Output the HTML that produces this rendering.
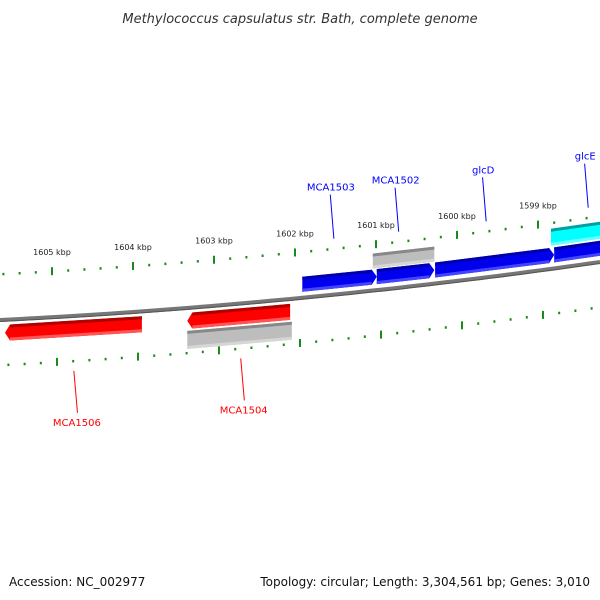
<!DOCTYPE html>
<html><head><meta charset="utf-8"><style>
html,body{margin:0;padding:0;background:#fff}
svg{display:block;font-family:"DejaVu Sans","Liberation Sans",sans-serif}
</style></head><body>
<svg id="c" width="600" height="600" viewBox="0 0 600 600">
<text x="300" y="23" text-anchor="middle" font-size="13" font-style="italic" fill="#333">Methylococcus capsulatus str. Bath, complete genome</text>
<text x="9" y="586" font-size="12" fill="#111">Accession: NC_002977</text>
<text x="590" y="586" text-anchor="end" font-size="12" fill="#111">Topology: circular; Length: 3,304,561 bp; Genes: 3,010</text>
<g id="g"></g>
</svg>
<script>
// data (kbp positions)
const tickKbp=[1605,1604,1603,1602,1601,1600,1599];
const geneNames=["MCA1506","MCA1504","MCA1504-gray","MCA1503","MCA1502","MCA1502-gray","glcD","glcE","glcE-cyan"];
const geneStart=[1605.58,1603.33,1603.33,1601.91,1600.99,1601.04,1600.27,1598.80,1598.84];
const geneEnd=[1603.89,1602.06,1602.04,1600.99,1600.28,1600.28,1598.80,1597.5,1597.5];
const geneStrand=["rev","rev","rev-gray","fwd","fwd","fwd-gray","fwd","fwd","fwd-cyan"];
const labelNames=["MCA1506","MCA1504","MCA1503","MCA1502","glcD","glcE"];
const labelKbp=[1604.73,1602.67,1601.52,1600.72,1599.64,1598.38];

const NS="http://www.w3.org/2000/svg";
const G=document.getElementById('g');
const X=k=>52+(1605-k)*81;
const Y=x=>320-0.05*x-7.78e-5*x*x;
function el(t,a,p){const e=document.createElementNS(NS,t);for(const k in a)e.setAttribute(k,a[k]);(p||G).appendChild(e);return e;}

// backbone
let d="";for(let x=0;x<=600;x+=10)d+=(x?"L":"M")+x+","+Y(x).toFixed(1);
const bb=el('path',{d:d,stroke:"#777",'stroke-width':4,fill:"none"});


let d2="";for(let x=0;x<=600;x+=10)d2+=(x?"L":"M")+x+","+(Y(x)+1.5).toFixed(1);
el('path',{d:d2,stroke:"#555",'stroke-width':1,fill:"none"});

// ticks
for(let k=1605.6;k>=1597.5;k-=0.2){
  const kr=Math.round(k*10)/10;
  const major=Math.abs(kr-Math.round(kr))<0.01;
  [[-46,0],[45,5]].forEach(([off,dx],i)=>{
    const x=X(kr)+dx; if(x<-2||x>602)return;
    const y=Y(x)+off;
    const t=el('rect',{x:x-1,y:major?y-4:y-1,width:2,height:major?8:2.5,fill:"#1a8a1a"});
    
    
  });
}
tickKbp.forEach(k=>{
  const x=X(k);
  const t=el('text',{x:x,y:Y(x)-62,'text-anchor':'middle','font-size':8,fill:"#222"});
  t.textContent=k+" kbp";
  
  
});

// genes
const style={"fwd":[-21,-6,"#0000ee","#0000aa","#4444ff"],"rev":[5,21,"#ff0000","#b00000","#ff5555"],
"rev-gray":[23,41,"#bdbdbd","#888","#d6d6d6"],"fwd-gray":[-37,-22,"#bdbdbd","#888","#d6d6d6"],
"fwd-cyan":[-40,-23,"#00ffff","#00a0a0","#66ffff"]};
geneNames.forEach((n,i)=>{
  const s=style[geneStrand[i]];
  let x1=X(geneStart[i]),x2=X(geneEnd[i]);
  const arrow=geneStrand[i]==="fwd"||geneStrand[i]==="rev";
  const a=arrow?5:0;
  const pt=(x,o)=>x.toFixed(1)+","+(Y(x)+o).toFixed(1);
  let pts;
  const m=(s[0]+s[1])/2;
  if(geneStrand[i]==="rev") pts=[pt(x1,m),pt(x1+a,s[0]),pt(x2,s[0]),pt(x2,s[1]),pt(x1+a,s[1])];
  else pts=[pt(x1,s[0]),pt(x2-a,s[0]),pt(x2,m),pt(x2-a,s[1]),pt(x1,s[1])];
  const g=el('polygon',{points:pts.join(" "),fill:s[2]});
  
  
  const xa=geneStrand[i]==="rev"?x1+a:x1, xb=geneStrand[i]==="rev"?x2:x2-a;
  el('polygon',{points:[pt(xa,s[0]),pt(xb,s[0]),pt(xb,s[0]+3),pt(xa,s[0]+3)].join(" "),fill:s[3]});
  el('polygon',{points:[pt(xa,s[1]-3),pt(xb,s[1]-3),pt(xb,s[1]),pt(xa,s[1])].join(" "),fill:s[4]});
});

// labels
labelNames.forEach((n,i)=>{
  const x=X(labelKbp[i]);
  const rev=n==="MCA1506"||n==="MCA1504";
  const col=rev?"#ff0000":"#0000ff";
  let y0,y1,ty;
  if(rev){y0=Y(x)+55;y1=Y(x)+97;ty=y1+13;}
  else{y0=Y(x)-56;y1=Y(x)-100;ty=y1-4;}
  el('line',{x1:x,y1:y0,x2:x-4*(rev?-1:1)*0.9,y2:y1,stroke:col,'stroke-width':1});
  const t=el('text',{x:x-(rev?-3:3),y:ty,'text-anchor':'middle','font-size':10,fill:col});
  t.textContent=n;
  
  
});
</script>
</body></html>
